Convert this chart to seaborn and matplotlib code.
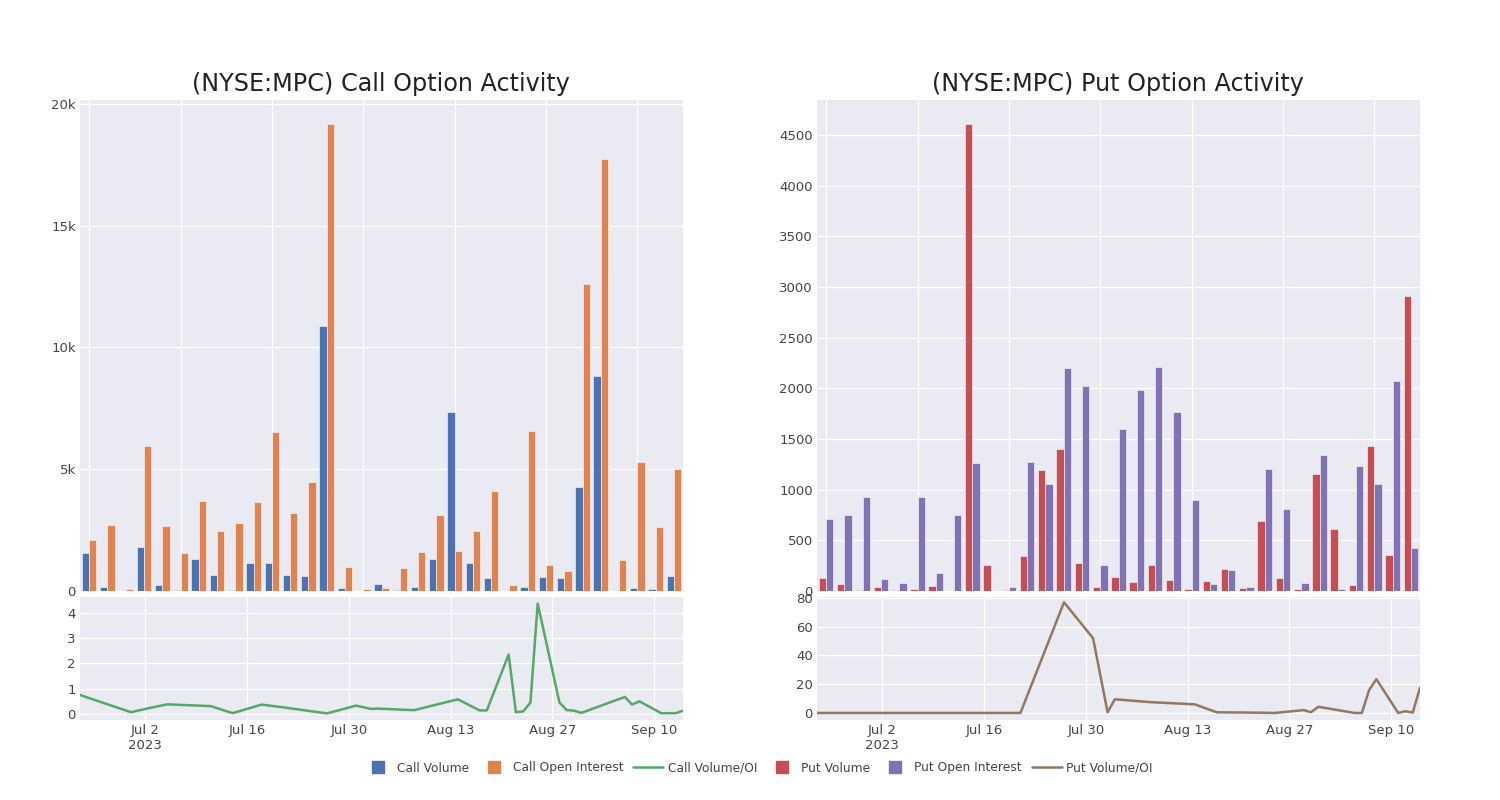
import matplotlib
matplotlib.use("Agg")
import matplotlib.pyplot as plt
from matplotlib.lines import Line2D
from matplotlib.ticker import FuncFormatter, FixedLocator
import seaborn as sns
import pandas as pd

# ---------------- data ----------------
dates = ["2023-06-23", "2023-06-30", "2023-07-03", "2023-07-05", "2023-07-11", "2023-07-14",
         "2023-07-18", "2023-07-21", "2023-07-27", "2023-07-31", "2023-08-02", "2023-08-03",
         "2023-08-08", "2023-08-14", "2023-08-17", "2023-08-18", "2023-08-21", "2023-08-22",
         "2023-08-23", "2023-08-24", "2023-08-25", "2023-08-28", "2023-08-29", "2023-08-30",
         "2023-08-31", "2023-09-05", "2023-09-06", "2023-09-07", "2023-09-08", "2023-09-11",
         "2023-09-12", "2023-09-13", "2023-09-14"]

call_volume = [1580, 160, 20, 1820, 260, 30, 1330, 640, 50, 1150, 1170, 640, 620, 10870, 110, 10,
               300, 40, 150, 1330, 7350, 1150, 530, 10, 160, 590, 550, 4290, 8840, 10, 140, 70, 620]
call_oi = [2080, 2690, 80, 5950, 2670, 1580, 3710, 2450, 2800, 3660, 6510, 3190, 4480, 19160, 970, 80,
           110, 950, 1620, 3110, 1660, 2480, 4100, 250, 6550, 1070, 840, 12620, 17750, 1260, 5280, 2620, 4990]
call_ratio = [0.75, 0.07, 0.26, 0.38, 0.31, 0.03, 0.37, 0.26, 0.02, 0.33, 0.20, 0.21, 0.15, 0.58, 0.14,
              0.14, 2.35, 0.07, 0.10, 0.45, 4.37, 0.45, 0.15, 0.13, 0.04, 0.57, 0.67, 0.37, 0.50, 0.03,
              0.03, 0.03, 0.13]

put_volume = [132, 73, 7, 36, 10, 23, 46, 3, 4610, 254, 7, 346, 1190, 1401, 280, 40, 135, 92, 254,
              105, 23, 96, 218, 30, 686, 132, 16, 1157, 613, 63, 1434, 359, 2915]
put_oi = [715, 755, 930, 115, 76, 930, 175, 755, 1266, 0, 36, 1270, 1052, 2199, 2024, 257, 1596, 1988,
          2206, 1767, 903, 69, 204, 43, 1207, 811, 76, 1342, 20, 1230, 1058, 2077, 422]
put_ratio = [0, 0, 0, 0, 0, 0, 0, 0, 77, 52, 0.5, 9.5, 7.5, 6, 0.5, 0.4, 0.3, 0.2, 0.2, 0.1, 0,
             1.5, 2, 0.5, 4.3, 0, 0, 16, 23.5, 0, 1.2, 0.3, 17.5]

date_ticks = ["2023-07-02", "2023-07-16", "2023-07-30", "2023-08-13", "2023-08-27", "2023-09-10"]
date_tick_labels = ["Jul 2\n2023", "Jul 16", "Jul 30", "Aug 13", "Aug 27", "Sep 10"]

titles = ["(NYSE:MPC) Call Option Activity", "(NYSE:MPC) Put Option Activity"]
legend_labels = ["Call Volume", "Call Open Interest", "Call Volume/OI",
                 "Put Volume", "Put Open Interest", "Put Volume/OI"]

# ---------------- style ----------------
sns.set_theme(style="darkgrid")
plt.rcParams["font.family"] = ["DejaVu Sans"]
TXT = "#444444"
BG = "#eaeaf2"
deep = sns.color_palette("deep")
c_call_vol, c_call_oi, c_call_ratio = deep[0], deep[1], deep[2]
c_put_vol, c_put_oi, c_put_ratio = deep[3], deep[4], deep[5]

fig = plt.figure(figsize=(15, 8), dpi=100)
W, H = 1500, 800


def ax_px(x0, y0, x1, y1):
    return fig.add_axes([x0 / W, 1 - y1 / H, (x1 - x0) / W, (y1 - y0) / H])


dt = pd.to_datetime(dates)
cats = [d.strftime("%Y-%m-%d") for d in dt]


def bar_panel(ax, vol, oi, names, colors, ylim, yticks, fmt):
    df = pd.DataFrame({
        "date": cats * 2,
        "value": list(vol) + list(oi),
        "series": [names[0]] * len(vol) + [names[1]] * len(oi),
    })
    sns.barplot(data=df, x="date", y="value", hue="series", order=cats,
                hue_order=names, palette=colors, saturation=1, width=0.8,
                edgecolor=(1, 1, 1, 0.55), linewidth=0.7, legend=False, ax=ax)
    ax.set_xlim(-0.5, len(cats) - 0.5)
    ax.set_ylim(*ylim)
    ax.xaxis.set_major_locator(FixedLocator(list(range(0, len(cats), 5))))
    ax.set_xticklabels([])
    ax.set_yticks(yticks)
    ax.yaxis.set_major_formatter(FuncFormatter(fmt))
    ax.set_xlabel("")
    ax.set_ylabel("")
    ax.tick_params(axis="both", length=0, labelsize=9.5, labelcolor=TXT, pad=3)
    ax.grid(True, color="white", linewidth=0.9)


def line_panel(ax, ratio, color, ylim, yticks):
    df = pd.DataFrame({"date": dt, "ratio": ratio})
    sns.lineplot(data=df, x="date", y="ratio", color=color, linewidth=1.8, ax=ax)
    ax.set_xlim(dt[0], dt[-1])
    ax.set_ylim(*ylim)
    ax.set_xticks(pd.to_datetime(date_ticks))
    ax.set_xticklabels(date_tick_labels)
    ax.set_yticks(yticks)
    ax.set_xlabel("")
    ax.set_ylabel("")
    ax.tick_params(axis="both", length=0, labelsize=9.5, labelcolor=TXT, pad=3)
    ax.grid(True, color="white", linewidth=0.9)


def kfmt(v, pos):
    return "0" if v == 0 else f"{int(v / 1000)}k"


def ifmt(v, pos):
    return f"{int(v)}"


# Call panels
ax1 = ax_px(80, 100, 683, 591)
bar_panel(ax1, call_volume, call_oi, legend_labels[0:2],
          [c_call_vol, c_call_oi], (0, 20160), [0, 5000, 10000, 15000, 20000], kfmt)
ax2 = ax_px(80, 597, 683, 720)
line_panel(ax2, call_ratio, c_call_ratio, (-0.24, 4.63), [0, 1, 2, 3, 4])

# Put panels
ax3 = ax_px(817, 100, 1420, 591)
bar_panel(ax3, put_volume, put_oi, legend_labels[3:5],
          [c_put_vol, c_put_oi], (0, 4846), list(range(0, 5000, 500)), ifmt)
ax4 = ax_px(817, 597, 1420, 720)
line_panel(ax4, put_ratio, c_put_ratio, (-4.9, 80.7), [0, 20, 40, 60, 80])

for ax in (ax1, ax2, ax3, ax4):
    ax.set_facecolor(BG)
    for s in ax.spines.values():
        s.set_visible(False)

fig.text(381 / W, 1 - 84 / H, titles[0], ha="center", va="center", fontsize=17.2, color="#222222")
fig.text(1118 / W, 1 - 84 / H, titles[1], ha="center", va="center", fontsize=17.2, color="#222222")

handles = [
    Line2D([], [], marker="s", linestyle="none", color=c_call_vol, markersize=8.5),
    Line2D([], [], marker="s", linestyle="none", color=c_call_oi, markersize=8.5),
    Line2D([], [], color=c_call_ratio, linewidth=1.8),
    Line2D([], [], marker="s", linestyle="none", color=c_put_vol, markersize=8.5),
    Line2D([], [], marker="s", linestyle="none", color=c_put_oi, markersize=8.5),
    Line2D([], [], color=c_put_ratio, linewidth=1.8),
]
leg = fig.legend(handles, legend_labels, loc="center", bbox_to_anchor=(0.505, 1 - 768 / H), ncol=6,
                 frameon=False, fontsize=8.8, handlelength=2.45, columnspacing=0.8,
                 handletextpad=0.35)
for t in leg.get_texts():
    t.set_color(TXT)

fig.savefig("out.png", dpi=100, facecolor="white")
